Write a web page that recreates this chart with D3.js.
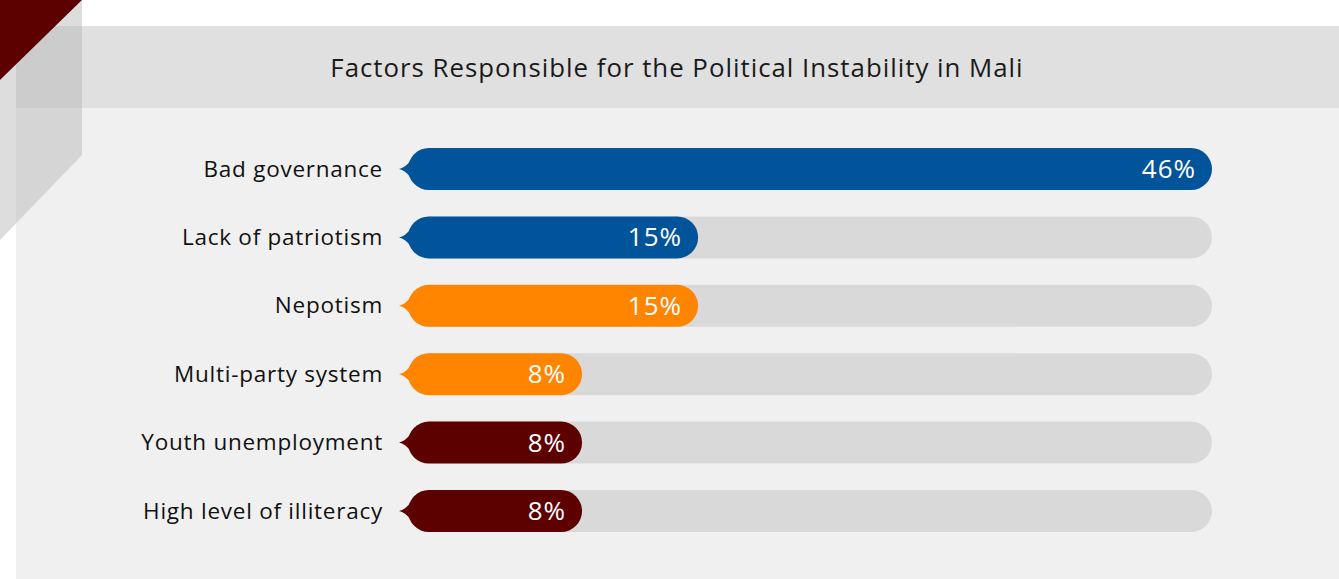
<!DOCTYPE html>
<html lang="en">
<head>
    <meta charset="UTF-8">
    <title>Mali instability</title>
    <script src="https://d3js.org/d3.v7.min.js"></script>
    <style>
        body { margin: 0; background: #fff; }
        text { font-family: "Open Sans", "Noto Sans", sans-serif; }
    </style>
</head>
<body>

<svg width="1339" height="579"></svg>

<script>

    // data
    var categories = ["Bad governance", "Lack of patriotism", "Nepotism",
        "Multi-party system", "Youth unemployment", "High level of illiteracy"];
    var values = [46, 15, 15, 8, 8, 8];
    var colors = ["#02549a", "#02549a", "#ff8400", "#ff8400", "#5c0000", "#5c0000"];
    var title = "Factors Responsible for the Political Instability in Mali";

    var svg = d3.select("svg");

    // background panel + header band
    svg.append("rect").attr("x", 16).attr("y", 26).attr("width", 1323).attr("height", 553).attr("fill", "#f0f0f0");
    svg.append("rect").attr("x", 16).attr("y", 26).attr("width", 1323).attr("height", 82).attr("fill", "#e0e0e0");

    // corner decoration
    svg.append("path")
        .attr("d", "M82,0 L82,155 L0,240 L0,80 Z")
        .attr("fill", "#b4b4b4")
        .attr("opacity", 0.45);
    svg.append("path")
        .attr("d", "M0,0 L82,0 L0,80 Z")
        .attr("fill", "#5c0000");

    svg.append("text")
        .attr("x", 677)
        .attr("y", 77)
        .attr("text-anchor", "middle")
        .attr("font-size", 25.8)
        .attr("letter-spacing", 1)
        .attr("fill", "#1a1a1a")
        .text(title);

    // scales
    var barStart = 408, barEnd = 1212, barH = 42;
    var x = d3.scaleLinear().domain([-2.5, d3.max(values)]).range([barStart, barEnd]);
    var y = d3.scaleBand().domain(categories).range([134.8, 545.2]);

    var rows = svg.append("g")
        .selectAll("g")
        .data(categories)
        .enter()
        .append("g")
        .attr("transform", function (d) {
            return "translate(0," + (y(d) + y.bandwidth() / 2) + ")";
        });

    // track
    rows.append("rect")
        .attr("x", barStart)
        .attr("y", -barH / 2)
        .attr("width", barEnd - barStart)
        .attr("height", barH)
        .attr("rx", barH / 2)
        .attr("fill", "#d9d9d9");

    // value bar
    rows.append("rect")
        .attr("x", barStart)
        .attr("y", -barH / 2)
        .attr("width", function (d, i) { return x(values[i]) - barStart; })
        .attr("height", barH)
        .attr("rx", barH / 2)
        .attr("fill", function (d, i) { return colors[i]; });

    // little pointer on the left end
    rows.append("path")
        .attr("d", "M399,0 Q405,-1 411,-9 L411,9 Q405,1 399,0 Z")
        .attr("fill", function (d, i) { return colors[i]; });

    rows.append("text")
        .attr("x", function (d, i) { return x(values[i]) - 16; })
        .attr("y", 9)
        .attr("text-anchor", "end")
        .attr("font-size", 26)
        .attr("letter-spacing", 1)
        .attr("fill", "#fff")
        .text(function (d, i) { return values[i] + "%"; });

    rows.append("text")
        .attr("x", 383)
        .attr("y", 7.5)
        .attr("text-anchor", "end")
        .attr("font-size", 22.5)
        .attr("letter-spacing", 0.75)
        .attr("fill", "#111")
        .text(function (d) { return d; });

</script>
</body>
</html>
